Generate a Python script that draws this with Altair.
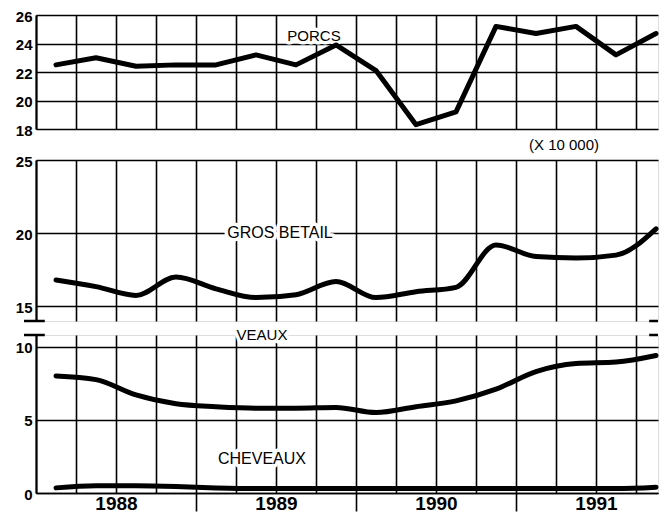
import altair as alt
import pandas as pd

# x unit = one quarter, 0 = start of 1988; points at quarter midpoints (1988 Q1 .. 1991 Q4)
quarter_mid = [0.5, 1.5, 2.5, 3.5, 4.5, 5.5, 6.5, 7.5, 8.5, 9.5, 10.5, 11.5, 12.5, 13.5, 14.5, 15.5]
porcs = [22.5, 23.0, 22.4, 22.5, 22.5, 23.2, 22.5, 23.9, 22.1, 18.3, 19.2, 25.2, 24.7, 25.2, 23.2, 24.7]
gros_betail = [16.8, 16.35, 15.75, 17.0, 16.2, 15.6, 15.8, 16.7, 15.6, 16.0, 16.3, 19.2, 18.4, 18.3, 18.5, 20.3]
veaux = [8.0, 7.75, 6.7, 6.1, 5.9, 5.8, 5.8, 5.85, 5.5, 5.9, 6.3, 7.1, 8.3, 8.85, 8.95, 9.4]
cheveaux = [0.35, 0.5, 0.5, 0.45, 0.35, 0.3, 0.3, 0.3, 0.3, 0.3, 0.3, 0.3, 0.3, 0.3, 0.3, 0.4]

years = ["1988", "1989", "1990", "1991"]
quarter_bounds = list(range(16))
porcs_ticks = [18, 20, 22, 24, 26]
betail_ticks = [15, 20, 25]
bas_ticks = [0, 5, 10]

# annotation labels (text, x in quarters, y in panel units, font size)
top_labels = pd.DataFrame({"t": ["PORCS", "(X 10 000)"], "x": [6.95, 13.2], "y": [24.5, 16.85], "s": [15, 15]})
mid_labels = pd.DataFrame({"t": ["GROS BETAIL"], "x": [6.1], "y": [20.0], "s": [16]})
bot_labels = pd.DataFrame({"t": ["VEAUX", "CHEVEAUX"], "x": [5.65, 5.65], "y": [10.8, 2.33], "s": [15, 16]})

X_DOMAIN = [0, 15.55]
W = 622
NUM_FONT = "Liberation Sans"
YEAR_FONT = "Liberation Sans Narrow, Liberation Sans, sans-serif"
TXT_FONT = "Liberation Sans"

# axis-break marks (left and right edges)
break_mid = pd.DataFrame({"x": [-0.3, 15.33], "x2": [0.22, 15.55], "y": [14, 14]})
break_bot = pd.DataFrame({"x": [-0.3, 15.33], "x2": [0.22, 15.55], "y": [10.8, 10.8]})

df_top = pd.DataFrame({"q": quarter_mid, "v": porcs})
df_mid = pd.DataFrame({"q": quarter_mid, "v": gros_betail})
df_bot = pd.DataFrame({"q": quarter_mid, "v": veaux, "c": cheveaux})

xscale = alt.Scale(domain=X_DOMAIN, nice=False, zero=False)

plain_x_axis = alt.Axis(values=quarter_bounds, grid=True, gridColor="black", gridWidth=1.6,
                        gridOpacity=1, labels=False, ticks=False, domain=False, title=None)

year_expr = "datum.value % 4 == 2 ? " + str(years) + "[floor(datum.value / 4)] : ''"
bottom_x_axis = alt.Axis(values=quarter_bounds, grid=True, gridColor="black", gridWidth=1.6,
                         gridOpacity=1, labels=True, labelExpr=year_expr, labelFont=YEAR_FONT,
                         labelFontSize=19, labelFontWeight="bold", labelColor="black",
                         labelPadding=-17, labelFlush=False, labelOverlap=False,
                         ticks=True, tickSize=18, tickColor="black", tickWidth=1.6,
                         tickOpacity={"condition": {"test": "datum.value % 4 == 0 && datum.value > 0", "value": 1}, "value": 0},
                         domain=True, domainColor="black", domainWidth=1.6, title=None)


def y_axis(vals):
    return alt.Axis(values=vals, grid=True, gridColor="black", gridWidth=1.6, gridOpacity=1,
                    domain=True, domainColor="black", domainWidth=2, ticks=False,
                    labelFont=NUM_FONT, labelFontSize=15, labelFontWeight="bold",
                    labelColor="black", labelPadding=4, labelOffset=1, title=None)


def labels_layers(df, X, Y):
    enc = dict(x=alt.X("x:Q", scale=xscale, axis=X), y=alt.Y("y:Q", axis=Y[0], scale=Y[1]),
               text="t:N", size=alt.Size("s:Q", scale=None, legend=None))
    halo = alt.Chart(df).mark_text(font=TXT_FONT, stroke="white", strokeWidth=7, strokeJoin="round",
                                   color="white", baseline="middle", align="center").encode(**enc)
    txt = alt.Chart(df).mark_text(font=TXT_FONT, color="black", baseline="middle",
                                  align="center").encode(**enc)
    return [halo, txt]


def line(df, field, X, Y, interp):
    return alt.Chart(df).mark_line(color="black", strokeWidth=5, interpolate=interp,
                                   strokeCap="round", strokeJoin="round").encode(
        x=alt.X("q:Q", scale=xscale, axis=X), y=alt.Y(field + ":Q", axis=Y[0], scale=Y[1]))


def breaks(df, X, Y):
    return alt.Chart(df).mark_rule(color="black", strokeWidth=2.5).encode(
        x=alt.X("x:Q", scale=xscale, axis=X), x2="x2:Q", y=alt.Y("y:Q", axis=Y[0], scale=Y[1]))


Ytop = (y_axis(porcs_ticks), alt.Scale(domain=[18, 26], nice=False, zero=False))
Ymid = (y_axis(betail_ticks), alt.Scale(domain=[14, 25], nice=False, zero=False))
Ybot = (y_axis(bas_ticks), alt.Scale(domain=[0, 10.8], nice=False, zero=False))

top = alt.layer(*labels_layers(top_labels, plain_x_axis, Ytop),
                line(df_top, "v", plain_x_axis, Ytop, "linear")).properties(width=W, height=114)

mid = alt.layer(*labels_layers(mid_labels, plain_x_axis, Ymid),
                breaks(break_mid, plain_x_axis, Ymid),
                line(df_mid, "v", plain_x_axis, Ymid, "monotone")).properties(width=W, height=161)

bot = alt.layer(*labels_layers(bot_labels, bottom_x_axis, Ybot),
                breaks(break_bot, bottom_x_axis, Ybot),
                line(df_bot, "v", bottom_x_axis, Ybot, "monotone"),
                line(df_bot, "c", bottom_x_axis, Ybot, "monotone")).properties(width=W, height=158)

inner = alt.vconcat(mid, bot, spacing=14, bounds="flush")
chart = alt.vconcat(top, inner, spacing=31, bounds="flush").properties(
    padding={"left": 6, "top": 0, "right": 0, "bottom": 0}
).configure_view(strokeWidth=0).configure(background="white")

chart.save("out.html", embed_options={"renderer": "svg", "actions": False})
